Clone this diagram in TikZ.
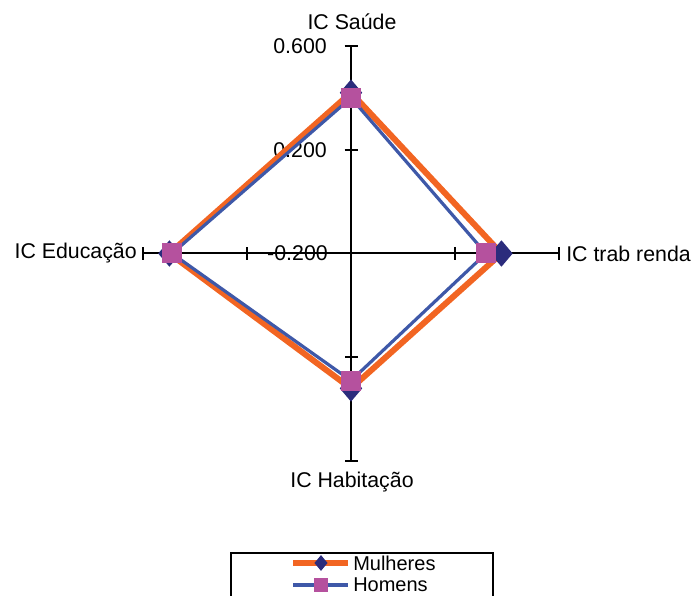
\documentclass[tikz,border=0pt]{standalone}
\usepackage{fontspec}
\setmainfont{Liberation Sans}
\usetikzlibrary{shapes.geometric}
\definecolor{mulherline}{RGB}{242,101,34}
\definecolor{homemline}{RGB}{62,88,168}
\definecolor{mulhermark}{RGB}{43,44,124}
\definecolor{homemmark}{RGB}{181,81,158}

\begin{document}
\begin{tikzpicture}[x=0.75pt, y=0.75pt,
    font=\fontsize{16}{19}\selectfont,
    axis/.style={line width=1.5pt, black},
    lbl/.style={inner sep=0pt},
    mline/.style={line width=4.5pt, mulherline, line join=round},
    hline/.style={line width=2.4pt, homemline, line join=round},
    mmark/.style={diamond, fill=mulhermark, inner sep=0pt, minimum width=17pt, minimum height=20pt},
    hmark/.style={rectangle, fill=homemmark, inner sep=0pt, minimum size=15pt}]
    \useasboundingbox (-351,-341.5) rectangle (347,253.5);

    \coordinate (o) at (0,0);
    \coordinate (saude) at (90:207.5);
    \coordinate (trab) at (0:207.5);
    \coordinate (hab) at (270:207.5);
    \coordinate (edu) at (180:207.5);

    \draw[axis] (saude) -- (hab);
    \draw[axis] (edu) -- (trab);
    \foreach \a in {0,90,180,270}
      \foreach \r in {103.75,207.5}
        \draw[axis] (\a:\r) ++(\a+90:6.5) -- ++(\a-90:13);

    \node[lbl, anchor=east] (l600) at (-24,207.5) {0.600};
    \node[lbl, anchor=east] (l200) at (-24,103.75) {0.200};
    \node[lbl, anchor=east] (lm200) at (-23,0) {-0.200};

    \node[lbl] (lsaude) at (1,231.5) {IC Saúde};
    \node[lbl, anchor=east] (ledu) at (-214,0) {IC Educação};
    \node[lbl, anchor=west] (ltrab) at (215,0) {IC trab renda};
    \node[lbl] (lhab) at (1,-228.5) {IC Habitação};

    % Mulheres
    \coordinate (m1) at (90:{(0.42+0.2)*259.4});
    \coordinate (m2) at (0:{(0.38+0.2)*259.4});
    \coordinate (m3) at (270:{(0.32+0.2)*259.4});
    \coordinate (m4) at (180:{(0.50+0.2)*259.4});
    \draw[mline] (m1) -- (m2) -- (m3) -- (m4) -- cycle;
    \foreach \p in {1,2,3,4}
      \node[mmark] (md\p) at (m\p) {};

    % Homens
    \coordinate (h1) at (90:{(0.40+0.2)*259.4});
    \coordinate (h2) at (0:{(0.32+0.2)*259.4});
    \coordinate (h3) at (270:{(0.29+0.2)*259.4});
    \coordinate (h4) at (180:{(0.49+0.2)*259.4});
    \draw[hline] (h1) -- (h2) -- (h3) -- (h4) -- cycle;
    \foreach \p in {1,2,3,4}
      \node[hmark] (hs\p) at (h\p) {};

    % legenda
    \draw[line width=1.1pt] (-120,-360) rectangle (142,-299.5);
    \coordinate (lm0) at (-58,-309.5);
    \coordinate (lm1) at (-3,-309.5);
    \draw[mline] (lm0) -- (lm1);
    \node[mmark, minimum width=10pt, minimum height=12pt] (lmd) at (-30,-309.5) {};
    \node[lbl, anchor=west, font=\fontsize{15}{18}\selectfont] (lmt) at (2,-309.5) {Mulheres};
    \coordinate (lh0) at (-58,-331.5);
    \coordinate (lh1) at (-3,-331.5);
    \draw[hline] (lh0) -- (lh1);
    \node[hmark, minimum size=10pt] (lhs) at (-30,-331.5) {};
    \node[lbl, anchor=west, font=\fontsize{15}{18}\selectfont] (lht) at (2,-331.5) {Homens};
\end{tikzpicture}
\end{document}
